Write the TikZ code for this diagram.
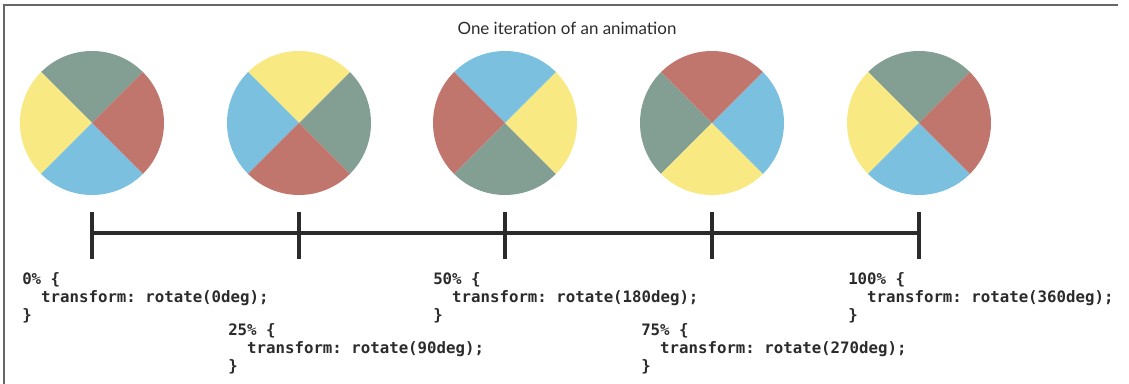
\documentclass[tikz,border=0pt]{standalone}
\usepackage{fontspec}
\setmainfont{Lato}
\setmonofont{DejaVu Sans Mono}

\definecolor{sage}{HTML}{839E93}
\definecolor{brick}{HTML}{C0766D}
\definecolor{sky}{HTML}{7BC1DF}
\definecolor{butter}{HTML}{F9E982}
\definecolor{ink}{HTML}{2B2B2B}

\tikzset{
  keyframe/.style={anchor=north west,inner sep=0pt,align=left,text=ink,
    font=\ttfamily\bfseries\fontsize{11.8}{13.5}\selectfont},
  tickmark/.style={draw=ink,line width=2.3pt},
}

\begin{document}
\begin{tikzpicture}[x=0.75pt,y=0.75pt]
      \useasboundingbox (0,0) rectangle (1129,384);
      \draw[black!60,line width=1.5pt] (4,0) -- (4,379) -- (1118,379);
      \node[anchor=base,text=ink,font=\fontsize{12.7}{15}\selectfont] (title) at (567,349) {One iteration of an animation};

      % wheels, turned a quarter each step
      \foreach \k/\x in {0/92,1/299,2/505,3/712,4/919} {
        \begin{scope}[shift={(\x,261)},rotate=-90*\k]
          \fill[sage] (0,0) -- (45:72) arc[start angle=45,end angle=135,radius=72] -- cycle;
          \fill[butter] (0,0) -- (135:72) arc[start angle=135,end angle=225,radius=72] -- cycle;
          \fill[sky] (0,0) -- (225:72) arc[start angle=225,end angle=315,radius=72] -- cycle;
          \fill[brick] (0,0) -- (-45:72) arc[start angle=-45,end angle=45,radius=72] -- cycle;
        \end{scope}
        \coordinate (t\k) at (\x,151);
        \draw[tickmark] (\x,125) -- (\x,172);
      }
      \draw[tickmark] (t0) -- (t4);

      \node[keyframe] (k0) at (22,112) {0\% \{\\\ \ transform: rotate(0deg);\\\}};
      \node[keyframe] (k1) at (228,61) {25\% \{\\\ \ transform: rotate(90deg);\\\}};
      \node[keyframe] (k2) at (433,112) {50\% \{\\\ \ transform: rotate(180deg);\\\}};
      \node[keyframe] (k3) at (641,61) {75\% \{\\\ \ transform: rotate(270deg);\\\}};
      \node[keyframe] (k4) at (848,112) {100\% \{\\\ \ transform: rotate(360deg);\\\}};
    \end{tikzpicture}
\end{document}
